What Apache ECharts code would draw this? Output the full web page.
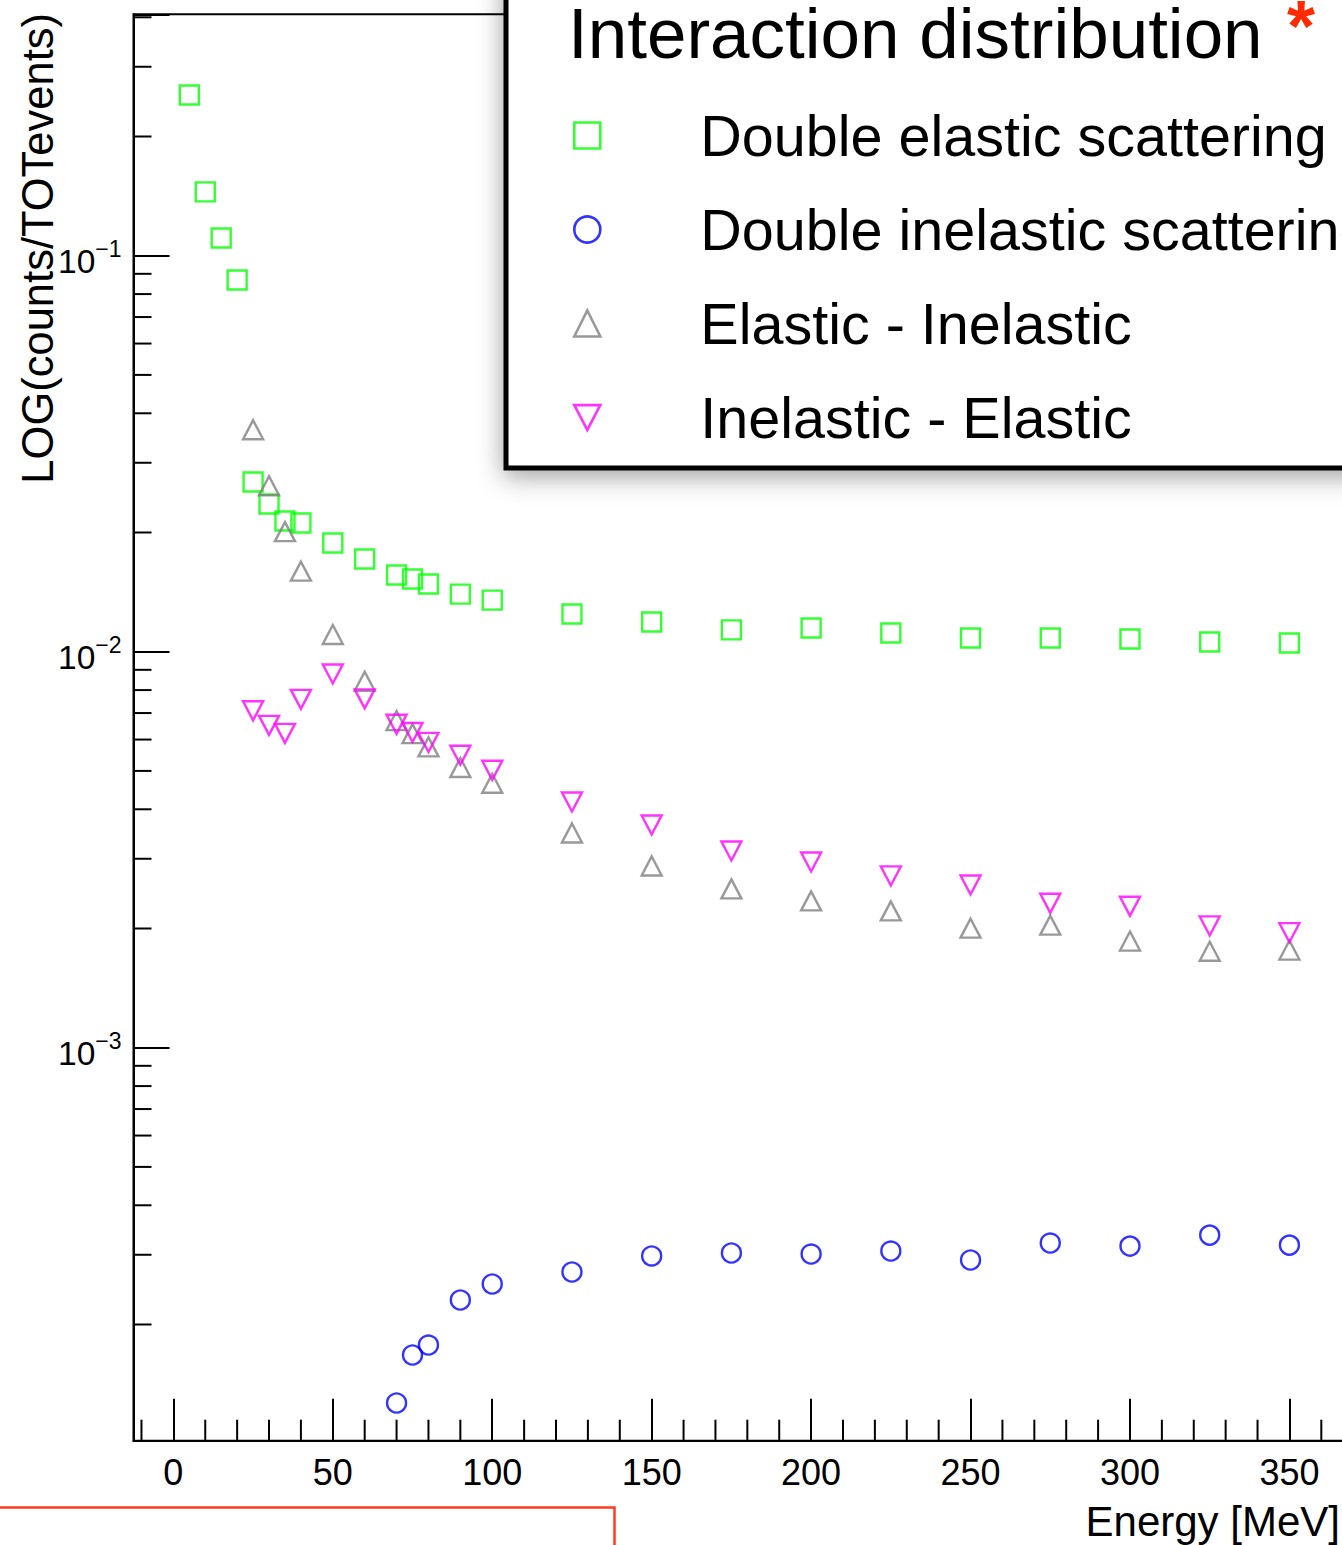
<!DOCTYPE html>
<html>
<head>
<meta charset="utf-8">
<title>Interaction distribution</title>
<script src="https://cdn.jsdelivr.net/npm/echarts@6/dist/echarts.min.js"></script>
<style>
  html, body { margin: 0; padding: 0; background: #ffffff; }
  #chart { width: 1342px; height: 1545px; }
</style>
</head>
<body>
<div id="chart"></div>
<script>
const FONT = '"Liberation Sans", Arial, Helvetica, sans-serif';

// Series names (legend order)
const seriesNames = [
  'Double elastic scattering',
  'Double inelastic scattering',
  'Elastic - Inelastic',
  'Inelastic - Elastic'
];

// Double elastic scattering
const elasticEnergy = [5, 10, 15, 20, 25, 30, 35, 40, 50, 60, 70, 75, 80, 90, 100, 125, 150, 175, 200, 225, 250, 275, 300, 325, 350];
const elasticValues = [0.2546, 0.1449, 0.1108, 0.0868, 0.02683, 0.0236, 0.02138, 0.02113, 0.01881, 0.01714, 0.01562, 0.01526, 0.01482, 0.01398, 0.0135, 0.01245, 0.01188, 0.01135, 0.01148, 0.01115, 0.01083, 0.01083, 0.01077, 0.01058, 0.01052];

// Double inelastic scattering
const inelasticEnergy = [70, 75, 80, 90, 100, 125, 150, 175, 200, 225, 250, 275, 300, 325, 350];
const inelasticValues = [1.267e-4, 1.675e-4, 1.775e-4, 2.306e-4, 2.531e-4, 2.714e-4, 2.979e-4, 3.031e-4, 3.013e-4, 3.066e-4, 2.91e-4, 3.212e-4, 3.155e-4, 3.363e-4, 3.173e-4];

// Elastic - Inelastic
const elInEnergy = [25, 30, 35, 40, 50, 60, 70, 75, 80, 90, 100, 125, 150, 175, 200, 225, 250, 275, 300, 325, 350];
const elInValues = [0.03635, 0.02624, 0.0201, 0.01597, 0.01105, 0.00842, 0.0067, 0.00621, 0.00575, 0.0051, 0.004653, 0.003485, 0.002877, 0.002518, 0.002348, 0.002215, 0.002004, 0.002039, 0.001859, 0.001752, 0.001764];

// Inelastic - Elastic
const inElEnergy = [25, 30, 35, 40, 50, 60, 70, 75, 80, 90, 100, 125, 150, 175, 200, 225, 250, 275, 300, 325, 350];
const inElValues = [0.007093, 0.006518, 0.006221, 0.007582, 0.008785, 0.007603, 0.006557, 0.006252, 0.0059, 0.005478, 0.005018, 0.004174, 0.003651, 0.003139, 0.002944, 0.002715, 0.002576, 0.002316, 0.002276, 0.00203, 0.001952];

// Axis ranges
const X_MIN = -12.5, X_MAX = 387.5;
const Y_MIN = 1.0176e-4, Y_MAX = 0.407;

// Marker shapes: open square, open circle, open triangle, open inverted triangle
const DOWN_TRIANGLE = 'path://M0,0L20,0L10,19Z';

function zip(xs, ys) { return xs.map((x, i) => [x, ys[i]]); }

// Minor tick positions (2..9 per decade, every 10 MeV)
const yMinorTicks = [];
for (let p = -4; p <= -1; p++) {
  for (let k = 2; k <= 9; k++) {
    const v = k * Math.pow(10, p);
    if (v > Y_MIN && v < Y_MAX) yMinorTicks.push([X_MIN, v]);
  }
}
const xMinorTicks = [];
for (let e = -10; e < X_MAX; e += 10) {
  if (e % 50 !== 0) xMinorTicks.push([e, Y_MIN]);
}

function tickRenderer(dir, len) {
  return function (params, api) {
    const p = api.coord([api.value(0), api.value(1)]);
    const shape = dir === 'x'
      ? { x1: p[0], y1: p[1], x2: p[0], y2: p[1] - len }
      : { x1: p[0], y1: p[1], x2: p[0] + len, y2: p[1] };
    return { type: 'line', shape: shape, style: { stroke: '#000', lineWidth: 2 } };
  };
}

function markerSeries(name, data, symbol, size, color) {
  return {
    name: name,
    type: 'scatter',
    data: data,
    symbol: symbol,
    symbolSize: size,
    itemStyle: { color: 'rgba(0,0,0,0)', borderColor: color, borderWidth: 2.4 },
    emphasis: { disabled: true },
    silent: true,
    z: 3
  };
}

const chart = echarts.init(document.getElementById('chart'), null, { renderer: 'svg' });

chart.setOption({
  animation: false,
  backgroundColor: '#ffffff',
  title: {
    text: 'Interaction distribution',
    left: 568,
    top: 0,
    padding: 0,
    z: 10,
    textStyle: { fontSize: 71, lineHeight: 66, fontWeight: 'normal', color: '#000', fontFamily: FONT }
  },
  legend: {
    data: seriesNames,
    orient: 'vertical',
    left: 573,
    top: 106.5,
    padding: 0,
    itemWidth: 26,
    itemHeight: 26,
    itemGap: 36,
    selectedMode: false,
    z: 10,
    itemStyle: { borderWidth: 2.6 },
    textStyle: { fontSize: 57.5, lineHeight: 57, color: '#000', fontFamily: FONT, padding: [0, 0, 0, 95] }
  },
  grid: {
    left: 133.5,
    right: -67,
    top: 14.3,
    bottom: 104.3,
    show: true,
    borderColor: '#000',
    borderWidth: 2,
    containLabel: false,
    outerBoundsMode: 'none'
  },
  xAxis: {
    type: 'value',
    min: X_MIN,
    max: X_MAX,
    splitNumber: 8,
    axisLine: { show: true, onZero: false, lineStyle: { color: '#000', width: 2 } },
    axisTick: { show: true, inside: true, length: 42, lineStyle: { color: '#000', width: 2 } },
    splitLine: { show: false },
    axisLabel: {
      margin: 14,
      fontSize: 36,
      color: '#000',
      fontFamily: FONT,
      formatter: function (v) { return Math.abs(v % 50) < 1e-9 ? String(v) : ''; }
    }
  },
  yAxis: {
    type: 'log',
    logBase: 10,
    min: Y_MIN,
    max: Y_MAX,
    axisLine: { show: true, onZero: false, lineStyle: { color: '#000', width: 2 } },
    axisTick: { show: true, inside: true, length: 36, lineStyle: { color: '#000', width: 2 } },
    splitLine: { show: false },
    axisLabel: {
      margin: 12,
      formatter: function (v) {
        const e = Math.log10(v);
        const r = Math.round(e);
        if (Math.abs(e - r) > 1e-6) return '';
        return '{b|10}{s|' + (r < 0 ? '\u2212' + (-r) : String(r)) + '}';
      },
      rich: {
        b: { fontSize: 33.5, lineHeight: 33, color: '#000', fontFamily: FONT, padding: [11, 0, 0, 0] },
        s: { fontSize: 23, lineHeight: 23, color: '#000', fontFamily: FONT, padding: [4, 0, 17, 0] }
      }
    }
  },
  series: [
    markerSeries(seriesNames[0], zip(elasticEnergy, elasticValues), 'rect', 19, '#00ff00'),
    markerSeries(seriesNames[1], zip(inelasticEnergy, inelasticValues), 'circle', 19, '#0000ff'),
    markerSeries(seriesNames[2], zip(elInEnergy, elInValues), 'triangle', [20, 19], '#808080'),
    markerSeries(seriesNames[3], zip(inElEnergy, inElValues), DOWN_TRIANGLE, [20, 19], '#ff00ff'),
    {
      type: 'custom',
      data: xMinorTicks,
      renderItem: tickRenderer('x', 21),
      clip: false,
      silent: true,
      z: 2
    },
    {
      type: 'custom',
      data: yMinorTicks,
      renderItem: tickRenderer('y', 18),
      clip: false,
      silent: true,
      z: 2
    }
  ],
  graphic: [
    {
      type: 'rect',
      z: 5,
      shape: { x: 506, y: -30, width: 1000, height: 498 },
      style: {
        fill: '#ffffff', stroke: '#000', lineWidth: 5,
        shadowBlur: 26, shadowOffsetY: 6, shadowColor: 'rgba(0,0,0,0.38)'
      }
    },
    {
      type: 'text',
      z: 11,
      x: 1301,
      y: 26,
      style: {
        text: '*', fill: '#ff2a00', fontSize: 72, lineHeight: 40, fontWeight: 'bold', fontFamily: FONT,
        align: 'center', verticalAlign: 'middle'
      }
    },
    {
      type: 'text',
      x: 38,
      y: 13,
      rotation: Math.PI / 2,
      style: {
        text: 'LOG(counts/TOTevents)', fill: '#000', fontSize: 43.5, fontFamily: FONT,
        align: 'right', verticalAlign: 'middle'
      }
    },
    {
      type: 'text',
      x: 1340,
      y: 1521.5,
      style: {
        text: 'Energy [MeV]', fill: '#000', fontSize: 42, fontFamily: FONT,
        align: 'right', verticalAlign: 'middle'
      }
    },
    {
      type: 'rect',
      shape: { x: -10, y: 1507.5, width: 624.5, height: 100 },
      style: { fill: 'none', stroke: '#ff3b1f', lineWidth: 2.5 }
    }
  ]
});
</script>
</body>
</html>
